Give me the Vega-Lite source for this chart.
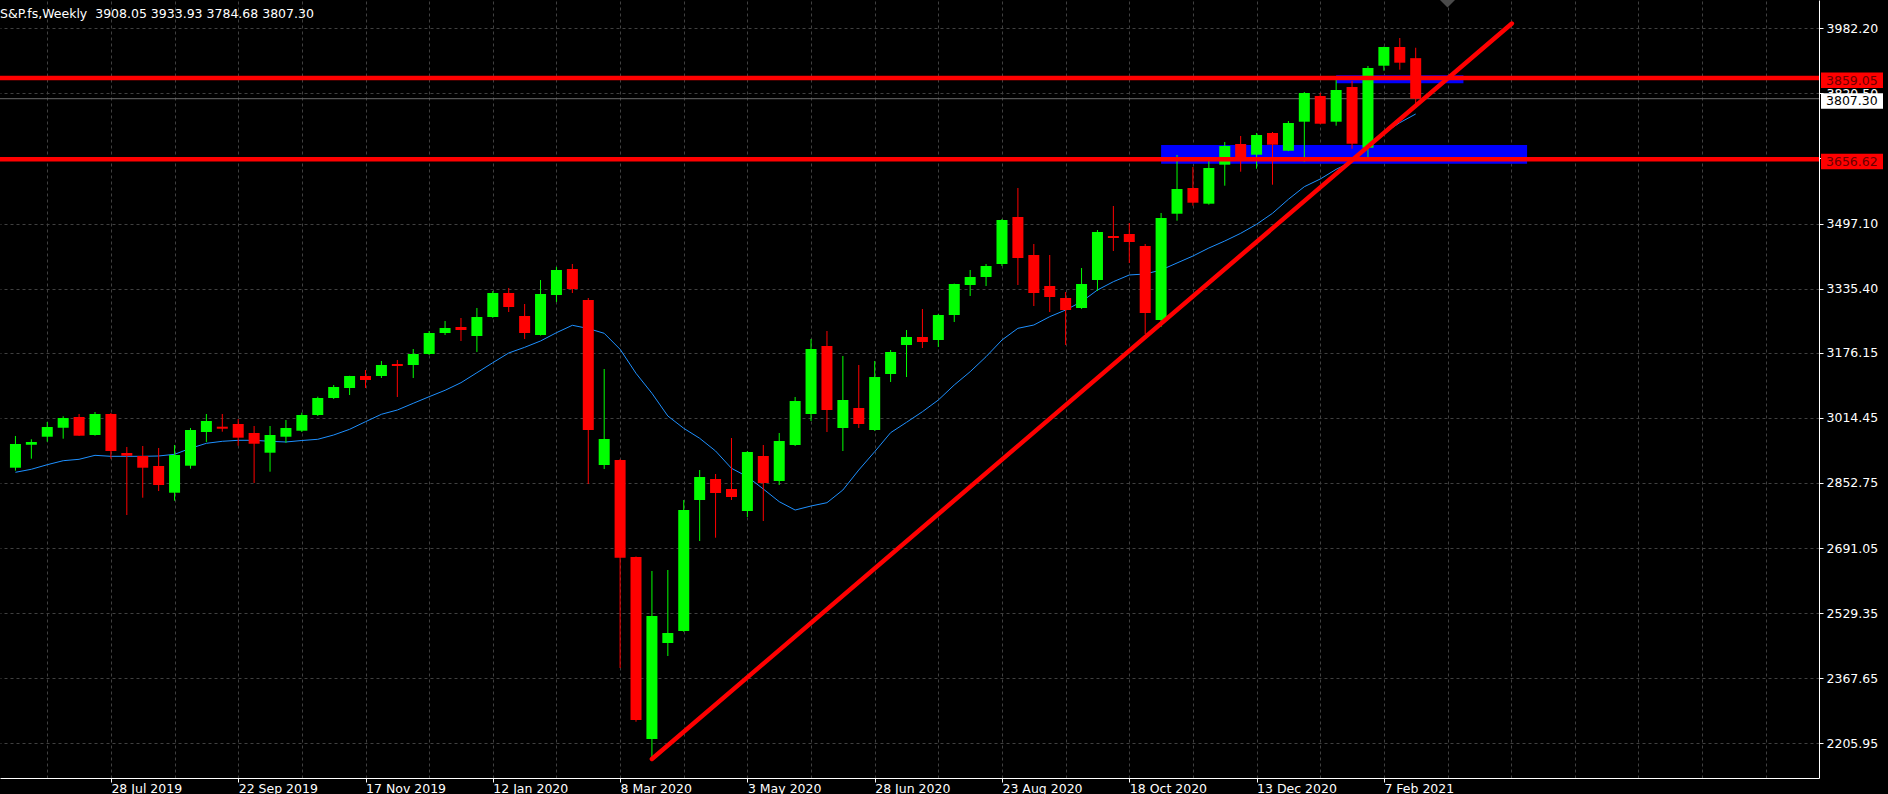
{
  "$schema": "https://vega.github.io/schema/vega-lite/v6.json",
  "autosize": {"type": "none"},
  "width": 1819,
  "height": 778,
  "padding": {"left": 0, "top": 0, "right": 69, "bottom": 16},
  "background": "#000000",
  "title": {"text": "S&P.fs,Weekly\u00a0 3908.05 3933.93 3784.68 3807.30", "anchor": "start", "frame": "group", "offset": -30.5, "baseline": "alphabetic", "color": "#ffffff", "font": "DejaVu Sans", "fontSize": 12.5, "fontWeight": "normal"},
  "config": {"font": "DejaVu Sans", "view": {"stroke": null}},
  "datasets": {
    "candles": [
      {"d": "2019-06-16", "o": 2890.6, "h": 2969.4, "l": 2883.2, "c": 2949.5, "ma": 2879.2},
      {"d": "2019-06-23", "o": 2947.8, "h": 2961.2, "l": 2913.0, "c": 2954.5, "ma": 2886.7},
      {"d": "2019-06-30", "o": 2967.6, "h": 3004.2, "l": 2955.2, "c": 2991.7, "ma": 2898.1},
      {"d": "2019-07-07", "o": 2990.0, "h": 3018.3, "l": 2962.7, "c": 3014.1, "ma": 2908.0},
      {"d": "2019-07-14", "o": 3016.6, "h": 3024.0, "l": 2969.5, "c": 2970.1, "ma": 2911.5},
      {"d": "2019-07-21", "o": 2971.9, "h": 3029.0, "l": 2970.1, "c": 3024.0, "ma": 2921.4},
      {"d": "2019-07-28", "o": 3024.0, "h": 3026.5, "l": 2913.0, "c": 2932.1, "ma": 2918.9},
      {"d": "2019-08-04", "o": 2927.1, "h": 2942.1, "l": 2773.1, "c": 2920.4, "ma": 2918.9},
      {"d": "2019-08-11", "o": 2919.7, "h": 2944.5, "l": 2816.1, "c": 2890.6, "ma": 2918.9},
      {"d": "2019-08-18", "o": 2894.9, "h": 2939.6, "l": 2832.7, "c": 2847.6, "ma": 2919.7},
      {"d": "2019-08-25", "o": 2828.5, "h": 2947.0, "l": 2808.6, "c": 2922.2, "ma": 2923.9},
      {"d": "2019-09-01", "o": 2895.6, "h": 2989.3, "l": 2888.1, "c": 2984.3, "ma": 2938.8},
      {"d": "2019-09-08", "o": 2979.3, "h": 3024.0, "l": 2954.5, "c": 3006.6, "ma": 2951.2},
      {"d": "2019-09-15", "o": 2992.5, "h": 3024.0, "l": 2980.1, "c": 2987.5, "ma": 2956.2},
      {"d": "2019-09-22", "o": 2999.2, "h": 3011.6, "l": 2945.3, "c": 2965.2, "ma": 2958.7},
      {"d": "2019-09-29", "o": 2976.8, "h": 2994.2, "l": 2852.6, "c": 2950.2, "ma": 2958.7},
      {"d": "2019-10-06", "o": 2927.9, "h": 2994.2, "l": 2880.7, "c": 2971.9, "ma": 2956.2},
      {"d": "2019-10-13", "o": 2967.6, "h": 3009.1, "l": 2952.7, "c": 2989.3, "ma": 2954.5},
      {"d": "2019-10-20", "o": 2982.5, "h": 3027.3, "l": 2979.3, "c": 3021.5, "ma": 2958.2},
      {"d": "2019-10-27", "o": 3021.5, "h": 3067.0, "l": 3019.1, "c": 3063.8, "ma": 2961.2},
      {"d": "2019-11-03", "o": 3063.8, "h": 3096.1, "l": 3061.3, "c": 3091.1, "ma": 2971.9},
      {"d": "2019-11-10", "o": 3088.6, "h": 3119.0, "l": 3071.2, "c": 3118.4, "ma": 2986.0},
      {"d": "2019-11-17", "o": 3118.4, "h": 3133.3, "l": 3088.6, "c": 3108.5, "ma": 3004.9},
      {"d": "2019-11-24", "o": 3118.4, "h": 3155.7, "l": 3113.5, "c": 3145.8, "ma": 3023.3},
      {"d": "2019-12-01", "o": 3148.2, "h": 3158.2, "l": 3066.3, "c": 3143.3, "ma": 3034.0},
      {"d": "2019-12-08", "o": 3145.8, "h": 3185.5, "l": 3113.5, "c": 3173.1, "ma": 3050.6},
      {"d": "2019-12-15", "o": 3173.1, "h": 3230.2, "l": 3170.6, "c": 3225.3, "ma": 3067.0},
      {"d": "2019-12-22", "o": 3225.3, "h": 3255.1, "l": 3220.3, "c": 3237.7, "ma": 3082.9},
      {"d": "2019-12-29", "o": 3240.2, "h": 3262.5, "l": 3205.4, "c": 3232.7, "ma": 3101.8},
      {"d": "2020-01-05", "o": 3217.8, "h": 3287.4, "l": 3178.1, "c": 3265.0, "ma": 3126.6},
      {"d": "2020-01-12", "o": 3265.0, "h": 3329.6, "l": 3263.0, "c": 3324.6, "ma": 3151.5},
      {"d": "2020-01-19", "o": 3324.6, "h": 3337.1, "l": 3277.4, "c": 3289.9, "ma": 3175.6},
      {"d": "2020-01-26", "o": 3267.5, "h": 3297.3, "l": 3210.4, "c": 3225.3, "ma": 3189.7},
      {"d": "2020-02-02", "o": 3220.3, "h": 3356.9, "l": 3219.0, "c": 3322.1, "ma": 3205.4},
      {"d": "2020-02-09", "o": 3319.7, "h": 3389.2, "l": 3302.3, "c": 3381.8, "ma": 3226.0},
      {"d": "2020-02-16", "o": 3384.3, "h": 3396.7, "l": 3324.6, "c": 3334.6, "ma": 3244.4},
      {"d": "2020-02-23", "o": 3307.2, "h": 3312.2, "l": 2850.1, "c": 2984.3, "ma": 3236.4},
      {"d": "2020-03-01", "o": 2897.3, "h": 3135.8, "l": 2887.4, "c": 2961.9, "ma": 3224.5},
      {"d": "2020-03-08", "o": 2909.8, "h": 2912.0, "l": 2393.0, "c": 2667.0, "ma": 3184.8},
      {"d": "2020-03-15", "o": 2668.8, "h": 2670.0, "l": 2259.6, "c": 2263.8, "ma": 3125.1},
      {"d": "2020-03-22", "o": 2216.6, "h": 2634.0, "l": 2167.0, "c": 2522.2, "ma": 3075.5},
      {"d": "2020-03-29", "o": 2455.1, "h": 2636.5, "l": 2422.8, "c": 2480.0, "ma": 3019.1},
      {"d": "2020-04-05", "o": 2484.9, "h": 2810.4, "l": 2483.0, "c": 2785.5, "ma": 2988.5},
      {"d": "2020-04-12", "o": 2810.4, "h": 2884.9, "l": 2708.5, "c": 2867.5, "ma": 2963.7},
      {"d": "2020-04-19", "o": 2862.6, "h": 2875.0, "l": 2716.7, "c": 2827.8, "ma": 2932.1},
      {"d": "2020-04-26", "o": 2837.7, "h": 2964.4, "l": 2810.4, "c": 2817.8, "ma": 2889.1},
      {"d": "2020-05-03", "o": 2783.1, "h": 2932.1, "l": 2768.2, "c": 2929.6, "ma": 2868.3},
      {"d": "2020-05-10", "o": 2919.7, "h": 2947.0, "l": 2758.2, "c": 2852.6, "ma": 2837.7},
      {"d": "2020-05-17", "o": 2857.6, "h": 2976.8, "l": 2847.6, "c": 2957.0, "ma": 2806.2},
      {"d": "2020-05-24", "o": 2947.0, "h": 3066.3, "l": 2944.5, "c": 3056.3, "ma": 2785.5},
      {"d": "2020-05-31", "o": 3024.0, "h": 3210.4, "l": 3006.6, "c": 3185.5, "ma": 2795.5},
      {"d": "2020-06-07", "o": 3193.0, "h": 3230.2, "l": 2979.3, "c": 3034.0, "ma": 2803.7},
      {"d": "2020-06-14", "o": 2989.3, "h": 3168.1, "l": 2932.1, "c": 3058.8, "ma": 2835.2},
      {"d": "2020-06-21", "o": 3038.9, "h": 3145.8, "l": 2989.3, "c": 2999.2, "ma": 2884.9},
      {"d": "2020-06-28", "o": 2984.3, "h": 3155.7, "l": 2982.0, "c": 3115.9, "ma": 2930.4},
      {"d": "2020-07-05", "o": 3123.4, "h": 3183.0, "l": 3103.5, "c": 3178.1, "ma": 2977.6},
      {"d": "2020-07-12", "o": 3195.5, "h": 3232.7, "l": 3115.9, "c": 3215.3, "ma": 3003.4},
      {"d": "2020-07-19", "o": 3215.3, "h": 3284.9, "l": 3188.0, "c": 3202.9, "ma": 3029.7},
      {"d": "2020-07-26", "o": 3207.9, "h": 3272.5, "l": 3190.5, "c": 3270.0, "ma": 3058.8},
      {"d": "2020-08-02", "o": 3270.0, "h": 3348.0, "l": 3252.6, "c": 3347.0, "ma": 3096.1},
      {"d": "2020-08-09", "o": 3344.5, "h": 3381.8, "l": 3317.2, "c": 3364.4, "ma": 3129.1},
      {"d": "2020-08-16", "o": 3364.4, "h": 3396.7, "l": 3342.0, "c": 3391.7, "ma": 3166.4},
      {"d": "2020-08-23", "o": 3396.7, "h": 3508.5, "l": 3391.7, "c": 3506.0, "ma": 3207.9},
      {"d": "2020-08-30", "o": 3513.4, "h": 3585.5, "l": 3344.5, "c": 3411.6, "ma": 3236.9},
      {"d": "2020-09-06", "o": 3419.0, "h": 3446.4, "l": 3292.3, "c": 3324.6, "ma": 3245.1},
      {"d": "2020-09-13", "o": 3342.0, "h": 3419.0, "l": 3277.4, "c": 3314.7, "ma": 3265.8},
      {"d": "2020-09-20", "o": 3312.2, "h": 3327.1, "l": 3195.5, "c": 3282.4, "ma": 3282.4},
      {"d": "2020-09-27", "o": 3287.4, "h": 3386.7, "l": 3285.0, "c": 3347.0, "ma": 3303.0},
      {"d": "2020-10-04", "o": 3356.9, "h": 3481.1, "l": 3329.6, "c": 3476.2, "ma": 3332.1},
      {"d": "2020-10-11", "o": 3466.2, "h": 3540.8, "l": 3429.0, "c": 3461.3, "ma": 3352.7},
      {"d": "2020-10-18", "o": 3471.2, "h": 3498.5, "l": 3399.2, "c": 3451.3, "ma": 3369.4},
      {"d": "2020-10-25", "o": 3441.4, "h": 3446.4, "l": 3222.8, "c": 3274.9, "ma": 3371.8},
      {"d": "2020-11-01", "o": 3257.6, "h": 3523.4, "l": 3240.2, "c": 3511.0, "ma": 3381.8},
      {"d": "2020-11-08", "o": 3521.6, "h": 3667.5, "l": 3504.2, "c": 3583.0, "ma": 3399.2},
      {"d": "2020-11-15", "o": 3585.5, "h": 3637.7, "l": 3541.5, "c": 3549.0, "ma": 3416.5},
      {"d": "2020-11-22", "o": 3546.5, "h": 3655.0, "l": 3544.0, "c": 3635.2, "ma": 3436.4},
      {"d": "2020-11-29", "o": 3643.4, "h": 3699.8, "l": 3591.2, "c": 3689.8, "ma": 3453.8},
      {"d": "2020-12-06", "o": 3694.8, "h": 3714.7, "l": 3626.0, "c": 3660.8, "ma": 3472.9},
      {"d": "2020-12-13", "o": 3668.2, "h": 3722.1, "l": 3633.4, "c": 3717.2, "ma": 3495.3},
      {"d": "2020-12-20", "o": 3722.1, "h": 3724.6, "l": 3593.7, "c": 3693.1, "ma": 3522.6},
      {"d": "2020-12-27", "o": 3678.1, "h": 3751.9, "l": 3677.0, "c": 3747.0, "ma": 3557.4},
      {"d": "2021-01-03", "o": 3750.2, "h": 3824.0, "l": 3650.8, "c": 3821.5, "ma": 3588.7},
      {"d": "2021-01-10", "o": 3814.0, "h": 3821.5, "l": 3744.0, "c": 3745.2, "ma": 3607.8},
      {"d": "2021-01-17", "o": 3750.2, "h": 3858.8, "l": 3740.3, "c": 3828.9, "ma": 3631.9},
      {"d": "2021-01-24", "o": 3836.4, "h": 3851.3, "l": 3683.1, "c": 3695.5, "ma": 3650.8},
      {"d": "2021-01-31", "o": 3685.6, "h": 3888.6, "l": 3655.8, "c": 3883.6, "ma": 3684.1},
      {"d": "2021-02-07", "o": 3889.3, "h": 3936.5, "l": 3876.9, "c": 3935.8, "ma": 3721.4},
      {"d": "2021-02-14", "o": 3935.8, "h": 3958.1, "l": 3879.4, "c": 3896.8, "ma": 3747.7},
      {"d": "2021-02-21", "o": 3908.05, "h": 3933.93, "l": 3784.68, "c": 3807.30, "ma": 3769.3}
    ],
    "zones": [
      {"x1": "2020-11-01", "x2": "2021-04-11", "top": 3692.3, "bottom": 3645.9},
      {"x1": "2021-01-17", "x2": "2021-03-14", "top": 3865.5, "bottom": 3845.6}
    ],
    "trend": [
      {"d": "2020-03-22", "p": 2167.0},
      {"d": "2021-04-04T07:00:00Z", "p": 3994.0}
    ],
    "levels": [
      {"price": 3859.05, "kind": "line"},
      {"price": 3656.62, "kind": "line"},
      {"price": 3807.30, "kind": "bid"}
    ],
    "marker": [
      {"d": "2021-03-07", "p": 4033.9}
    ]
  },
  "resolve": {"axis": {"x": "independent", "y": "independent"}},
  "layer": [
    {
      "data": {"name": "zones"},
      "mark": {"type": "rect", "color": "#0000ff"},
      "encoding": {
        "x": {"field": "x1", "type": "temporal", "scale": {"type": "utc", "domain": [1560246300000, 1629004500000], "nice": false}, "axis": null},
        "x2": {"field": "x2"},
        "y": {"field": "top", "type": "quantitative", "title": null, "scale": {"domain": [2119.75, 4052.53], "nice": false, "zero": false},
          "axis": {"orient": "right", "values": [3982.20, 3820.50, 3658.80, 3497.10, 3335.40, 3176.15, 3014.45, 2852.75, 2691.05, 2529.35, 2367.65, 2205.95], "format": ".2f", "labelColor": "#ffffff", "labelFont": "DejaVu Sans", "labelFontSize": 12.5, "labelAlign": "left", "labelBaseline": "middle", "labelPadding": 3, "tickSize": 4, "tickColor": "#ffffff", "tickWidth": 1, "domainColor": "#ffffff", "domainWidth": 1, "grid": true, "gridColor": "#404040", "gridDash": [3, 3], "gridWidth": 1, "labelOverlap": false, "labelFlush": false, "labelBound": false, "title": null}},
        "y2": {"field": "bottom"}
      }
    },
    {
      "data": {"name": "levels"},
      "transform": [{"filter": "datum.kind == 'bid'"}],
      "mark": {"type": "rule", "color": "#6a6a6a", "strokeWidth": 1},
      "encoding": {
        "y": {"field": "price", "type": "quantitative", "title": null, "scale": {"domain": [2119.75, 4052.53], "nice": false, "zero": false}, "axis": null}
      }
    },
    {
      "data": {"name": "candles"},
      "mark": {"type": "line", "color": "#1e90ff", "strokeWidth": 1},
      "encoding": {
        "x": {"field": "d", "type": "temporal", "scale": {"type": "utc", "domain": [1560246300000, 1629004500000], "nice": false},
          "axis": {"orient": "top", "values": [
            {"year": 2019, "month": 6, "date": 2, "utc": true},
            {"year": 2019, "month": 6, "date": 30, "utc": true},
            {"year": 2019, "month": 7, "date": 28, "utc": true},
            {"year": 2019, "month": 8, "date": 25, "utc": true},
            {"year": 2019, "month": 9, "date": 22, "utc": true},
            {"year": 2019, "month": 10, "date": 20, "utc": true},
            {"year": 2019, "month": 11, "date": 17, "utc": true},
            {"year": 2019, "month": 12, "date": 15, "utc": true},
            {"year": 2020, "month": 1, "date": 12, "utc": true},
            {"year": 2020, "month": 2, "date": 9, "utc": true},
            {"year": 2020, "month": 3, "date": 8, "utc": true},
            {"year": 2020, "month": 4, "date": 5, "utc": true},
            {"year": 2020, "month": 5, "date": 3, "utc": true},
            {"year": 2020, "month": 5, "date": 31, "utc": true},
            {"year": 2020, "month": 6, "date": 28, "utc": true},
            {"year": 2020, "month": 7, "date": 26, "utc": true},
            {"year": 2020, "month": 8, "date": 23, "utc": true},
            {"year": 2020, "month": 9, "date": 20, "utc": true},
            {"year": 2020, "month": 10, "date": 18, "utc": true},
            {"year": 2020, "month": 11, "date": 15, "utc": true},
            {"year": 2020, "month": 12, "date": 13, "utc": true},
            {"year": 2021, "month": 1, "date": 10, "utc": true},
            {"year": 2021, "month": 2, "date": 7, "utc": true},
            {"year": 2021, "month": 3, "date": 7, "utc": true},
            {"year": 2021, "month": 4, "date": 4, "utc": true},
            {"year": 2021, "month": 5, "date": 2, "utc": true},
            {"year": 2021, "month": 5, "date": 30, "utc": true},
            {"year": 2021, "month": 6, "date": 27, "utc": true},
            {"year": 2021, "month": 7, "date": 25, "utc": true}
          ], "grid": true, "gridColor": "#404040", "gridDash": [3, 3], "gridWidth": 1, "labels": false, "ticks": false, "domain": false, "title": null}},
        "y": {"field": "ma", "type": "quantitative", "title": null, "scale": {"domain": [2119.75, 4052.53], "nice": false, "zero": false}, "axis": null}
      }
    },
    {
      "data": {"name": "candles"},
      "mark": {"type": "rule", "strokeWidth": 1},
      "encoding": {
        "x": {"field": "d", "type": "temporal", "scale": {"type": "utc", "domain": [1560246300000, 1629004500000], "nice": false}, "axis": null},
        "y": {"field": "l", "type": "quantitative", "title": null, "scale": {"domain": [2119.75, 4052.53], "nice": false, "zero": false}, "axis": null},
        "y2": {"field": "h"},
        "color": {"condition": {"test": "datum.c < datum.o", "value": "#ff0000"}, "value": "#00ff00"}
      }
    },
    {
      "data": {"name": "candles"},
      "mark": {"type": "bar", "width": 11},
      "encoding": {
        "x": {"field": "d", "type": "temporal", "scale": {"type": "utc", "domain": [1560246300000, 1629004500000], "nice": false},
          "axis": {"orient": "bottom", "values": [
            {"year": 2019, "month": 6, "date": 2, "utc": true},
            {"year": 2019, "month": 7, "date": 28, "utc": true},
            {"year": 2019, "month": 9, "date": 22, "utc": true},
            {"year": 2019, "month": 11, "date": 17, "utc": true},
            {"year": 2020, "month": 1, "date": 12, "utc": true},
            {"year": 2020, "month": 3, "date": 8, "utc": true},
            {"year": 2020, "month": 5, "date": 3, "utc": true},
            {"year": 2020, "month": 6, "date": 28, "utc": true},
            {"year": 2020, "month": 8, "date": 23, "utc": true},
            {"year": 2020, "month": 10, "date": 18, "utc": true},
            {"year": 2020, "month": 12, "date": 13, "utc": true},
            {"year": 2021, "month": 2, "date": 7, "utc": true}
          ], "format": "%-d %b %Y", "labelColor": "#ffffff", "labelFont": "DejaVu Sans", "labelFontSize": 12.5, "labelAlign": "left", "labelBaseline": "top", "labelPadding": 0, "tickSize": 4, "tickColor": "#ffffff", "tickWidth": 1, "domainColor": "#ffffff", "domainWidth": 1, "grid": false, "labelOverlap": false, "labelFlush": false, "labelBound": false, "title": null}},
        "y": {"field": "o", "type": "quantitative", "title": null, "scale": {"domain": [2119.75, 4052.53], "nice": false, "zero": false}, "axis": null},
        "y2": {"field": "c"},
        "color": {"condition": {"test": "datum.c < datum.o", "value": "#ff0000"}, "value": "#00ff00"}
      }
    },
    {
      "data": {"name": "levels"},
      "transform": [{"filter": "datum.kind == 'line'"}],
      "mark": {"type": "rule", "color": "#ff0000", "strokeWidth": 4.5},
      "encoding": {
        "y": {"field": "price", "type": "quantitative", "title": null, "scale": {"domain": [2119.75, 4052.53], "nice": false, "zero": false}, "axis": null}
      }
    },
    {
      "data": {"name": "trend"},
      "mark": {"type": "line", "color": "#ff0000", "strokeWidth": 4.5, "strokeCap": "round"},
      "encoding": {
        "x": {"field": "d", "type": "temporal", "scale": {"type": "utc", "domain": [1560246300000, 1629004500000], "nice": false}, "axis": null},
        "y": {"field": "p", "type": "quantitative", "title": null, "scale": {"domain": [2119.75, 4052.53], "nice": false, "zero": false}, "axis": null}
      }
    },
    {
      "data": {"name": "marker"},
      "mark": {"type": "point", "shape": "M-1,-1L1,-1L0,0Z", "size": 225, "filled": true, "color": "#4a4a4a", "opacity": 1},
      "encoding": {
        "x": {"field": "d", "type": "temporal", "scale": {"type": "utc", "domain": [1560246300000, 1629004500000], "nice": false}, "axis": null},
        "y": {"field": "p", "type": "quantitative", "title": null, "scale": {"domain": [2119.75, 4052.53], "nice": false, "zero": false}, "axis": null}
      }
    },
    {
      "data": {"name": "levels"},
      "mark": {"type": "rect", "yOffset": -5.5, "y2Offset": 10, "clip": false},
      "encoding": {
        "x": {"value": {"expr": "width + 2"}},
        "x2": {"value": {"expr": "width + 64"}},
        "y": {"field": "price", "type": "quantitative", "title": null, "scale": {"domain": [2119.75, 4052.53], "nice": false, "zero": false}, "axis": null},
        "y2": {"field": "price"},
        "color": {"condition": {"test": "datum.kind == 'bid'", "value": "#ffffff"}, "value": "#ff0000"}
      }
    },
    {
      "data": {"name": "levels"},
      "mark": {"type": "text", "align": "left", "baseline": "middle", "dy": 2.7, "font": "DejaVu Sans", "fontSize": 12.5, "clip": false},
      "encoding": {
        "x": {"value": {"expr": "width + 7"}},
        "y": {"field": "price", "type": "quantitative", "title": null, "scale": {"domain": [2119.75, 4052.53], "nice": false, "zero": false}, "axis": null},
        "text": {"field": "price", "type": "quantitative", "format": ".2f"},
        "color": {"condition": {"test": "datum.kind == 'bid'", "value": "#000000"}, "value": "#6b0000"}
      }
    }
  ]
}
